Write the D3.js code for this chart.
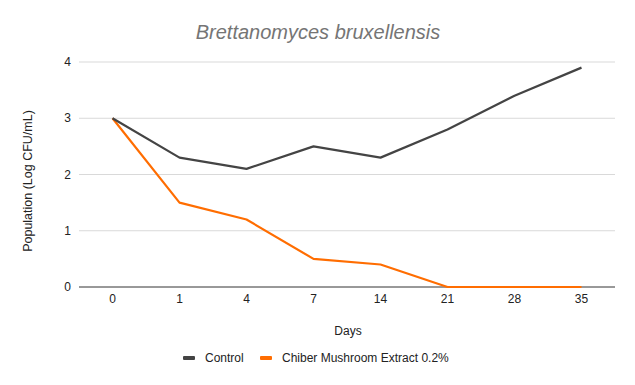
<!DOCTYPE html>
<html>
<head>
<meta charset="utf-8">
<script src="https://cdn.jsdelivr.net/npm/d3@7"></script>
<style>
  body { margin: 0; background: #fff; }
  text { font-family: "Liberation Sans", Arial, sans-serif; }
</style>
</head>
<body>
<svg width="635" height="385"></svg>
<script>
var days = ["0", "1", "4", "7", "14", "21", "28", "35"];
var control = [3, 2.3, 2.1, 2.5, 2.3, 2.8, 3.4, 3.9];
var chiber = [3, 1.5, 1.2, 0.5, 0.4, 0, 0, 0];
var yTicks = [0, 1, 2, 3, 4];
var seriesNames = ["Control", "Chiber Mushroom Extract 0.2%"];
var seriesColors = ["#444444", "#ff6d01"];

var svg = d3.select("svg");
var plotLeft = 79, plotRight = 615, plotTop = 62, plotBottom = 287;

var x = d3.scalePoint()
          .domain(days)
          .range([plotLeft, plotRight])
          .padding(0.5);

var y = d3.scaleLinear()
          .domain([0, 4])
          .range([plotBottom, plotTop]);

// title
svg.append("text")
   .attr("x", 318)
   .attr("y", 39)
   .attr("text-anchor", "middle")
   .style("font-size", "20px")
   .style("font-style", "italic")
   .attr("fill", "#757575")
   .text("Brettanomyces bruxellensis");

// gridlines
svg.append("g")
   .selectAll("line")
   .data(yTicks.filter(function (d) { return d > 0; }))
   .enter().append("line")
   .attr("x1", plotLeft)
   .attr("x2", plotRight)
   .attr("y1", function (d) { return y(d); })
   .attr("y2", function (d) { return y(d); })
   .attr("stroke", "#d9d9d9")
   .attr("stroke-width", 1);

// y labels
svg.append("g")
   .selectAll("text")
   .data(yTicks)
   .enter().append("text")
   .attr("x", 71)
   .attr("y", function (d) { return y(d) + 4; })
   .attr("text-anchor", "end")
   .style("font-size", "12px")
   .attr("fill", "#222")
   .text(function (d) { return d; });

// baseline
svg.append("line")
   .attr("x1", plotLeft)
   .attr("x2", plotRight)
   .attr("y1", y(0))
   .attr("y2", y(0))
   .attr("stroke", "#333")
   .attr("stroke-width", 1);

// x labels
svg.append("g")
   .selectAll("text")
   .data(days)
   .enter().append("text")
   .attr("x", function (d) { return x(d); })
   .attr("y", 303)
   .attr("text-anchor", "middle")
   .style("font-size", "12px")
   .attr("fill", "#222")
   .text(function (d) { return d; });

// axis titles
svg.append("text")
   .attr("x", 348)
   .attr("y", 335)
   .attr("text-anchor", "middle")
   .style("font-size", "12px")
   .attr("fill", "#222")
   .text("Days");

svg.append("text")
   .attr("transform", "translate(32,181) rotate(-90)")
   .attr("text-anchor", "middle")
   .style("font-size", "12.5px")
   .attr("fill", "#222")
   .text("Population (Log CFU/mL)");

// lines
var line = d3.line()
   .x(function (d, i) { return x(days[i]); })
   .y(function (d) { return y(d); });

[chiber, control].forEach(function (vals, k) {
  var idx = k === 0 ? 1 : 0;
  svg.append("path")
     .datum(vals)
     .attr("d", line)
     .attr("fill", "none")
     .attr("stroke", seriesColors[idx])
     .attr("stroke-width", 2.2)
     .attr("stroke-linejoin", "round");
});

// legend
var legendX = [183, 260];
var lg = svg.append("g");
seriesNames.forEach(function (name, i) {
  lg.append("rect")
    .attr("x", legendX[i])
    .attr("y", 356)
    .attr("width", 12)
    .attr("height", 4)
    .attr("rx", 1)
    .attr("fill", seriesColors[i]);
  lg.append("text")
    .attr("x", legendX[i] + 22)
    .attr("y", 362)
    .style("font-size", "12px")
    .attr("fill", "#222")
    .text(name);
});
</script>
</body>
</html>
